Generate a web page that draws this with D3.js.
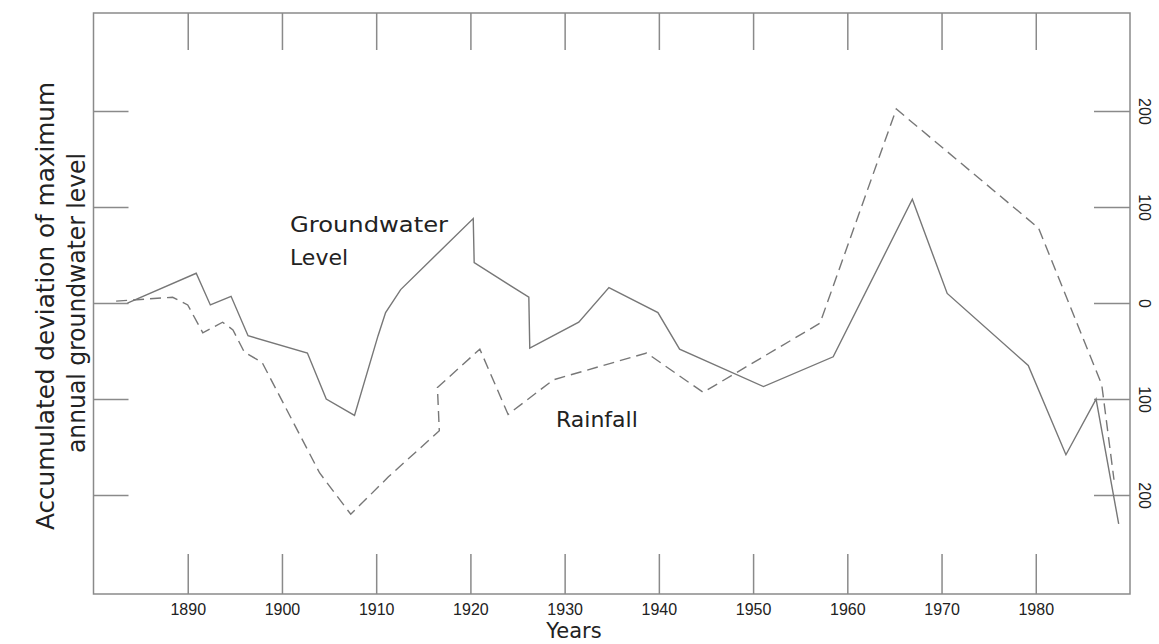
<!DOCTYPE html>
<html>
<head>
<meta charset="utf-8">
<script src="https://cdn.jsdelivr.net/npm/d3@7/dist/d3.min.js"></script>
<style>
  html, body { margin: 0; padding: 0; background: #fff; }
  svg { display: block; }
</style>
</head>
<body>
<svg id="chart" width="1159" height="644"></svg>
<script>
// ---- data ----
const gwYears  = [1883.6, 1890.9, 1892.4, 1894.6, 1896.4, 1902.7, 1904.7, 1907.7, 1910.2, 1911.0, 1912.6, 1920.3, 1920.4, 1926.2, 1926.3, 1931.5, 1934.7, 1939.9, 1942.2, 1951.1, 1958.5, 1966.9, 1970.6, 1979.2, 1983.2, 1986.4, 1988.8];
const gwValues = [0, 31, -2, 7, -34, -52, -100, -117, -34, -10, 14, 88, 42, 6, -47, -20, 16, -10, -48, -87, -56, 108, 10, -65, -158, -100, -230];

const rfYears  = [1882.4, 1888.4, 1890.0, 1891.6, 1893.7, 1894.8, 1896.0, 1897.9, 1904.0, 1907.3, 1911.3, 1916.7, 1916.5, 1921.0, 1924.0, 1928.8, 1938.7, 1942.2, 1944.7, 1957.1, 1965.2, 1980.3, 1987.0, 1988.3];
const rfValues = [2, 6, -2, -31, -20, -28, -51, -62, -177, -220, -181, -133, -88, -48, -116, -80, -52, -76, -93, -21, 202, 78, -85, -184];

const xTicks = [1890, 1900, 1910, 1920, 1930, 1940, 1950, 1960, 1970, 1980];
const yTicks = [-200, -100, 0, 100, 200];
const yTickLabels = ["200", "100", "0", "100", "200"];

const xTitle = "Years";
const yTitleLines = ["Accumulated deviation of maximum", "annual groundwater level"];
const seriesLabels = { groundwater: ["Groundwater", "Level"], rainfall: "Rainfall" };

// ---- layout ----
const svg = d3.select("#chart");
const M = { left: 93.5, right: 1130, top: 13, bottom: 594 };
const lineColor = "#777", frameColor = "#8a8a8a", textColor = "#222";

const x = d3.scaleLinear().domain([1880, 1990]).range([M.left, M.right]);
const y = d3.scaleLinear().domain([-303, 302]).range([M.bottom, M.top]);

// frame
svg.append("rect")
  .attr("x", M.left).attr("y", M.top)
  .attr("width", M.right - M.left).attr("height", M.bottom - M.top)
  .attr("fill", "none").attr("stroke", frameColor).attr("stroke-width", 1.5);

function styleAxis(g) {
  g.select(".domain").remove();
  g.attr("font-size", null).attr("font-family", null);
  g.selectAll(".tick line").attr("stroke", frameColor).attr("stroke-width", 1.5);
  g.selectAll("text").attr("fill", textColor)
    .style("font-family", "'Liberation Sans', Arial, sans-serif").style("font-size", "16px");
}

// bottom axis (ticks inside)
svg.append("g").attr("transform", `translate(0,${M.bottom})`)
  .call(d3.axisBottom(x).tickValues(xTicks).tickSizeInner(-40).tickSizeOuter(0).tickPadding(10).tickFormat(d3.format("d")))
  .call(styleAxis);

// top axis (ticks inside, no labels)
svg.append("g").attr("transform", `translate(0,${M.top})`)
  .call(d3.axisTop(x).tickValues(xTicks).tickSizeInner(-37).tickSizeOuter(0).tickFormat(""))
  .call(styleAxis);

// left axis (ticks inside, no labels)
svg.append("g").attr("transform", `translate(${M.left},0)`)
  .call(d3.axisLeft(y).tickValues(yTicks).tickSizeInner(-35).tickSizeOuter(0).tickFormat(""))
  .call(styleAxis);

// right axis (ticks inside, rotated labels)
const rightAxis = svg.append("g").attr("transform", `translate(${M.right},0)`)
  .call(d3.axisRight(y).tickValues(yTicks).tickSizeInner(-36).tickSizeOuter(0)
    .tickFormat((d, i) => yTickLabels[i]))
  .call(styleAxis);
rightAxis.selectAll(".tick text")
  .attr("x", 0).attr("y", 0).attr("dy", "0.35em")
  .attr("text-anchor", "middle")
  .attr("transform", "translate(15,0) rotate(90)");

// lines
const lineGen = d3.line().x(d => x(d[0])).y(d => y(d[1]));
const gwData = gwYears.map((yr, i) => [yr, gwValues[i]]);
const rfData = rfYears.map((yr, i) => [yr, rfValues[i]]);

svg.append("path").datum(gwData)
  .attr("d", lineGen).attr("fill", "none")
  .attr("stroke", lineColor).attr("stroke-width", 1.4).attr("stroke-linejoin", "miter");

svg.append("path").datum(rfData)
  .attr("d", lineGen).attr("fill", "none")
  .attr("stroke", lineColor).attr("stroke-width", 1.4).attr("stroke-dasharray", "11,6");

// series labels
const labelFont = "'DejaVu Sans', sans-serif";
svg.append("text").attr("x", 290).attr("y", 232).text(seriesLabels.groundwater[0])
  .attr("fill", textColor).style("font-family", labelFont).style("font-size", "22px")
  .attr("textLength", 158).attr("lengthAdjust", "spacingAndGlyphs");
svg.append("text").attr("x", 290).attr("y", 265).text(seriesLabels.groundwater[1])
  .attr("fill", textColor).style("font-family", labelFont).style("font-size", "22px");
svg.append("text").attr("x", 556).attr("y", 427).text(seriesLabels.rainfall)
  .attr("fill", textColor).style("font-family", labelFont).style("font-size", "22px");

// axis titles
svg.append("text").attr("x", 574).attr("y", 638).attr("text-anchor", "middle").text(xTitle)
  .attr("fill", textColor).style("font-family", labelFont).style("font-size", "21px");

const yTitleX = [54, 85];
const yTitleLen = [448, 300];
const yTitleCY = [306, 303];
yTitleLines.forEach((t, i) => {
  svg.append("text")
    .attr("transform", `translate(${yTitleX[i]},${yTitleCY[i]}) rotate(-90)`)
    .attr("text-anchor", "middle").text(t)
    .attr("fill", textColor).style("font-family", labelFont).style("font-size", "24px")
    .attr("textLength", yTitleLen[i]).attr("lengthAdjust", "spacingAndGlyphs");
});
</script>
</body>
</html>
